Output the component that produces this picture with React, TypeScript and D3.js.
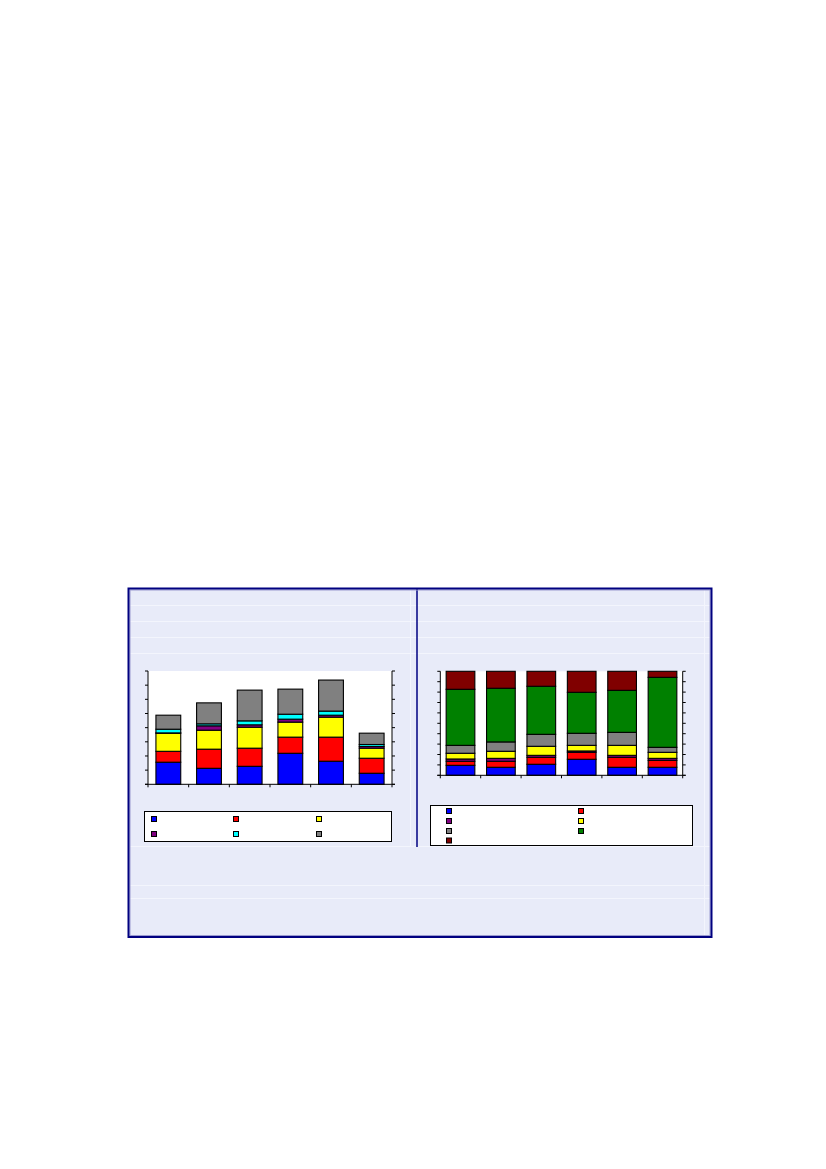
import React from "react";
import * as d3 from "d3";

// left chart: six stacked series, arbitrary units (axis 0..8)
const leftCats = ["c1", "c2", "c3", "c4", "c5", "c6"];
const leftKeys = ["blue", "red", "yellow", "purple", "cyan", "gray"];
const leftColors = ["#0000ff", "#ff0000", "#ffff00", "#800080", "#00ffff", "#808080"];
const leftBlue = [1.56, 1.13, 1.27, 2.19, 1.63, 0.78];
const leftRed = [0.77, 1.35, 1.28, 1.14, 1.7, 1.06];
const leftYellow = [1.28, 1.34, 1.48, 1.06, 1.41, 0.71];
const leftPurple = [0.02, 0.31, 0.17, 0.21, 0.14, 0.12];
const leftCyan = [0.26, 0.14, 0.28, 0.35, 0.29, 0.14];
const leftGray = [0.99, 1.48, 2.17, 1.77, 2.19, 0.8];
const leftTicks = [0, 1, 2, 3, 4, 5, 6, 7, 8];

// right chart: 100% stacked shares
const rightCats = ["c1", "c2", "c3", "c4", "c5", "c6"];
const rightKeys = ["blue", "red", "purple", "yellow", "gray", "green", "darkred"];
const rightColors = ["#0000ff", "#ff0000", "#800080", "#ffff00", "#808080", "#008000", "#800000"];
const rightBlue = [9.6, 7.7, 10.6, 15.4, 7.7, 7.7];
const rightRed = [3.9, 5.8, 6.7, 6.7, 9.6, 6.7];
const rightPurple = [2.2, 2.8, 1.9, 1.3, 1.9, 1.9];
const rightYellow = [5.5, 6.8, 8.7, 5.4, 9.6, 5.8];
const rightGray = [7.6, 9.0, 11.5, 11.6, 12.5, 4.8];
const rightGreen = [53.9, 51.6, 46.2, 39.4, 40.4, 67.3];
const rightDarkred = [17.3, 16.3, 14.4, 20.2, 18.3, 5.8];
const rightTicks = [0, 10, 20, 30, 40, 50, 60, 70, 80, 90, 100];

const toRows = (cats, keys, cols) =>
  cats.map((c, i) => {
    const row = { cat: c };
    keys.forEach((k, j) => (row[k] = cols[j][i]));
    return row;
  });

const leftRows = toRows(leftCats, leftKeys, [leftBlue, leftRed, leftYellow, leftPurple, leftCyan, leftGray]);
const rightRows = toRows(rightCats, rightKeys, [
  rightBlue, rightRed, rightPurple, rightYellow, rightGray, rightGreen, rightDarkred,
]);

const StackedBars = ({ rows, keys, colors, cats, x0, x1, y0, y1, domainMax, ticks, barRatio }) => {
  const x = d3
    .scaleBand()
    .domain(cats)
    .range([x0, x1])
    .paddingInner(1 - barRatio)
    .paddingOuter((1 - barRatio) / 2);
  const y = d3.scaleLinear().domain([0, domainMax]).range([y1, y0]);
  const series = d3.stack().keys(keys)(rows);
  const step = x.step();

  return (
    <g>
      <rect x={x0} y={y0} width={x1 - x0} height={y1 - y0} fill="#ffffff" />
      {series.map((s, si) => (
        <g key={s.key}>
          {s.map((d, i) => (
            <rect
              key={i}
              x={x(cats[i])}
              y={y(d[1])}
              width={x.bandwidth()}
              height={Math.max(0, y(d[0]) - y(d[1]))}
              fill={colors[si]}
              stroke="#000"
              strokeWidth={1.1}
            />
          ))}
        </g>
      ))}
      {/* axes */}
      <line x1={x0} x2={x0} y1={y0} y2={y1} stroke="#000" />
      <line x1={x1} x2={x1} y1={y0} y2={y1} stroke="#000" />
      <line x1={x0 - 3} x2={x1 + 3} y1={y1} y2={y1} stroke="#000" />
      {ticks.map((t) => (
        <g key={t}>
          <line x1={x0 - 3} x2={x0} y1={y(t)} y2={y(t)} stroke="#000" />
          <line x1={x1} x2={x1 + 3} y1={y(t)} y2={y(t)} stroke="#000" />
        </g>
      ))}
      {d3.range(cats.length + 1).map((i) => (
        <line
          key={i}
          x1={x0 + i * step}
          x2={x0 + i * step}
          y1={y1}
          y2={y1 + 3}
          stroke="#000"
        />
      ))}
    </g>
  );
};

const Legend = ({ box, colors, cols, colX, rowY }) => (
  <g>
    <rect x={box[0]} y={box[1]} width={box[2]} height={box[3]} fill="#fff" stroke="#000" strokeWidth={1} />
    {colors.map((c, i) => (
      <rect
        key={i}
        x={colX[i % cols]}
        y={rowY[Math.floor(i / cols)]}
        width={5}
        height={5}
        fill={c}
        stroke="#000"
        strokeWidth={1}
      />
    ))}
  </g>
);

export default function App() {
  const bg = "#e8ebf9";
  const faint = "#f3f5fd";
  return (
    <div style={{ position: "absolute", left: 0, top: 0 }}>
      <svg width={826} height={1169} style={{ display: "block" }}>
        <rect x={0} y={0} width={826} height={1169} fill="#fff" />
        <rect x={128.5} y={588.5} width={583} height={348.5} fill={bg} />
        {/* faint table grid */}
        {[605.5, 621.5, 637.5, 653.5, 846.5, 885.5, 898.5].map((yy) => (
          <line key={yy} x1={130} x2={710} y1={yy} y2={yy} stroke={faint} strokeWidth={1} />
        ))}
        <line x1={410.5} x2={410.5} y1={590} y2={846} stroke={faint} strokeWidth={1} />
        <line x1={704.5} x2={704.5} y1={590} y2={935} stroke={faint} strokeWidth={1} />
        <line x1={417} x2={417} y1={589} y2={847} stroke="#000080" strokeWidth={1.5} />

        <StackedBars
          rows={leftRows}
          keys={leftKeys}
          colors={leftColors}
          cats={leftCats}
          x0={148}
          x1={392}
          y0={671}
          y1={784.3}
          domainMax={8}
          ticks={leftTicks}
          barRatio={0.61}
        />
        <StackedBars
          rows={rightRows}
          keys={rightKeys}
          colors={rightColors}
          cats={rightCats}
          x0={440.3}
          x1={682.7}
          y0={671.3}
          y1={775.3}
          domainMax={100}
          ticks={rightTicks}
          barRatio={0.71}
        />

        <Legend
          box={[144.5, 811.5, 247, 30]}
          colors={leftColors}
          cols={3}
          colX={[151.5, 233.5, 316.5]}
          rowY={[816.5, 831.5]}
        />
        <Legend
          box={[430.5, 805.5, 262, 40]}
          colors={rightColors}
          cols={2}
          colX={[446.5, 578.5]}
          rowY={[808.5, 818.5, 828.5, 838]}
        />

        {/* frame */}
        <rect x={130} y={590} width={580} height={345.5} fill="none" stroke="#9a9ad0" strokeWidth={1} />
        <rect x={128.5} y={588.5} width={583} height={348.5} fill="none" stroke="#000080" strokeWidth={2} />
      </svg>
    </div>
  );
}
